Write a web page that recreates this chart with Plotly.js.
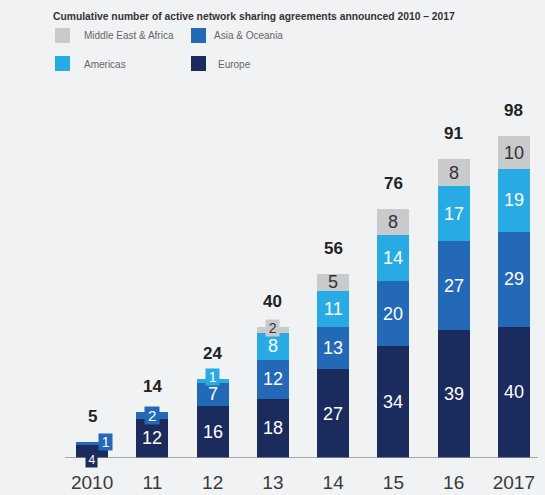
<!DOCTYPE html>
<html>
<head>
<meta charset="utf-8">
<script src="https://cdn.plot.ly/plotly-3.0.1.min.js"></script>
<style>
  html, body { margin: 0; padding: 0; background: #f1f2f4; }
  #chart { width: 545px; height: 495px; }
</style>
</head>
<body>
<div id="chart"></div>
<script>
// ---- Data ----
const years = ['2010', '11', '12', '13', '14', '15', '16', '2017'];
const europe = [4, 12, 16, 18, 27, 34, 39, 40];
const asiaOceania = [1, 2, 7, 12, 13, 20, 27, 29];
const americas = [0, 0, 1, 8, 11, 14, 17, 19];
const middleEastAfrica = [0, 0, 0, 2, 5, 8, 8, 10];
const seriesNames = ['Europe', 'Asia & Oceania', 'Americas', 'Middle East & Africa'];
const titleText = 'Cumulative number of active network sharing agreements announced 2010 \u2013 2017';

// ---- Style ----
const COLORS = {
  'Europe': '#1b2b5e',
  'Asia & Oceania': '#2369b8',
  'Americas': '#28abe4',
  'Middle East & Africa': '#c9cacc'
};
const LABEL_COLORS = {
  'Europe': '#ffffff',
  'Asia & Oceania': '#ffffff',
  'Americas': '#ffffff',
  'Middle East & Africa': '#333333'
};
const FONT = 'Liberation Sans, Arial, Helvetica, sans-serif';
const W = 545, H = 495;
const M = { l: 62, r: 1, t: 100, b: 37 };
const PW = W - M.l - M.r, PH = H - M.t - M.b;
const YMAX = 109.1;

const xIdx = years.map((_, i) => i);
const seriesValues = [europe, asiaOceania, americas, middleEastAfrica];

const traces = seriesNames.map((name, i) => ({
  type: 'bar',
  name: name,
  x: xIdx,
  y: seriesValues[i],
  marker: { color: COLORS[name], line: { width: 0 } },
  showlegend: false,
  hoverinfo: 'y+name'
}));

// Label offsets for tiny segments (styling only)
const SMALL_SHIFT = {
  '2010|Europe': { yshift: -9, xshift: -1, size: 12 },
  '2010|Asia & Oceania': { xshift: 13, yshift: 1, size: 14 },
  '12|Americas': { xshift: 0, yshift: 4, size: 14 },
  '13|Middle East & Africa': { xshift: 0, yshift: 2, size: 14 }
};

const annotations = [];
years.forEach((yr, j) => {
  let base = 0;
  seriesNames.forEach((name, i) => {
    const v = seriesValues[i][j];
    if (v > 0) {
      const mid = base + v / 2;
      const key = yr + '|' + name;
      const small = v <= 2 || SMALL_SHIFT[key];
      const sh = SMALL_SHIFT[key] || {};
      const a = {
        x: j, y: mid, xref: 'x', yref: 'y',
        text: small ? '\u2009' + v + '\u2009' : String(v), showarrow: false,
        xanchor: 'center', yanchor: 'middle',
        font: { family: FONT, size: small ? (sh.size || 15) : 18, color: LABEL_COLORS[name] },
        xshift: sh.xshift || 0, yshift: sh.yshift || 0
      };
      if (small) {
        a.bgcolor = COLORS[name];
        a.borderpad = 0;
      }
      annotations.push(a);
    }
    base += v;
  });
  // total label
  annotations.push({
    x: j, y: base, xref: 'x', yref: 'y',
    text: '<b>' + base + '</b>', showarrow: false,
    xanchor: 'center', yanchor: 'bottom', yshift: 14,
    font: { family: FONT, size: 17, color: '#222222' }
  });
});

// ---- Custom legend (pixel positions converted to paper coords) ----
const px2x = p => (p - M.l) / PW;
const py2y = p => (H - M.b - p) / PH;
const legendItems = [
  { name: 'Middle East & Africa', sx: 55, sy: 28, tx: 82, ty: 36 },
  { name: 'Asia & Oceania', sx: 191, sy: 28, tx: 212, ty: 36 },
  { name: 'Americas', sx: 55, sy: 56, tx: 82, ty: 64 },
  { name: 'Europe', sx: 191, sy: 56, tx: 216, ty: 64 }
];
const shapes = [];
legendItems.forEach(it => {
  shapes.push({
    type: 'rect', xref: 'paper', yref: 'paper',
    x0: px2x(it.sx), x1: px2x(it.sx + 15),
    y0: py2y(it.sy + 15), y1: py2y(it.sy),
    fillcolor: COLORS[it.name], line: { width: 0 }
  });
  annotations.push({
    xref: 'paper', yref: 'paper', x: px2x(it.tx), y: py2y(it.ty),
    xanchor: 'left', yanchor: 'middle', showarrow: false,
    text: it.name, font: { family: FONT, size: 10, color: '#666666' }
  });
});
// baseline
shapes.push({
  type: 'line', xref: 'paper', yref: 'y',
  x0: px2x(65), x1: px2x(538), y0: 0, y1: 0,
  line: { color: '#8c8c8c', width: 1.5 }
});

const layout = {
  width: W, height: H,
  margin: M,
  paper_bgcolor: '#f1f2f4',
  plot_bgcolor: '#f1f2f4',
  barmode: 'stack',
  bargap: 0.47,
  title: {
    text: '<b>' + titleText + '</b>',
    xref: 'container', yref: 'container',
    x: 53 / W, xanchor: 'left',
    y: 1 - 16 / H, yanchor: 'middle',
    font: { family: FONT, size: 10.3, color: '#333333' }
  },
  xaxis: {
    type: 'linear',
    range: [-0.5, years.length - 0.5],
    tickmode: 'array', tickvals: xIdx, ticktext: years,
    showgrid: false, zeroline: false, showline: false, ticks: '',
    tickfont: { family: FONT, size: 19, color: '#3a3a3a' },
    ticklabelstandoff: 11,
    fixedrange: true
  },
  yaxis: {
    range: [0, YMAX],
    visible: false, showgrid: false, zeroline: false,
    fixedrange: true
  },
  showlegend: false,
  annotations: annotations,
  shapes: shapes
};

Plotly.newPlot('chart', traces, layout, { displayModeBar: false, staticPlot: true });
</script>
</body>
</html>
